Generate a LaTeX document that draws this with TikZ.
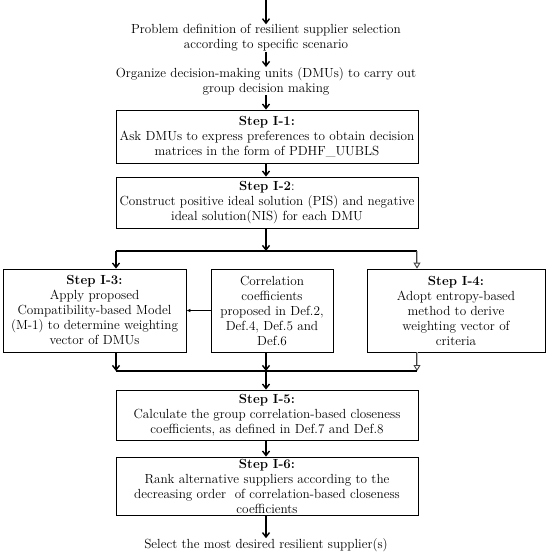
\documentclass[tikz,border=0pt]{standalone}
\usetikzlibrary{arrows.meta}
\begin{document}
\begin{tikzpicture}[x=1pt,y=-1pt,
  font=\fontsize{13.2}{15}\selectfont,
  txt/.style={align=center, inner sep=0pt},
  box/.style={draw, line width=0.8pt, align=center, inner sep=0pt},
  arr/.style={line width=1.4pt, -{Straight Barb[length=4.5pt,width=7pt]}},
  dbl/.style={draw=black!75, double=gray!55, double distance=1pt, line width=0.7pt, -{Triangle[open,length=6pt,width=7pt,line width=0.9pt]}},
  ln/.style={line width=1.4pt},
  thin arr/.style={line width=0.8pt, -{Latex[length=4pt,width=3.5pt]}}]
\useasboundingbox (0,0) rectangle (550,555);
\coordinate (top) at (266,0);
\node[txt] (t1) at (266,38) {Problem definition of resilient supplier selection\\according to specific scenario};
\node[txt] (t2) at (266,81) {Organize decision-making units (DMUs) to carry out\\group decision making};
\node[box, minimum width=302pt, minimum height=53pt] (b1) at (267,136.5) {\textbf{Step I-1:}\\Ask DMUs to express preferences to obtain decision\\matrices in the form of PDHF\_UUBLS};
\node[box, minimum width=302pt, minimum height=51pt] (b2) at (267,202.5) {\textbf{Step I-2}:\\Construct positive ideal solution (PIS) and negative\\ideal solution(NIS) for each DMU};
\node[box, minimum width=183pt, minimum height=83pt] (b3) at (94.5,310.5) {\textbf{Step I-3:}\\Apply proposed\\Compatibility-based Model\\(M-1) to determine weighting\\vector of DMUs};
\node[box, minimum width=122pt, minimum height=83pt] (b4) at (272,310.5) {Correlation\\coefficients\\proposed in Def.2,\\Def.4, Def.5 and\\Def.6};
\node[box, minimum width=178pt, minimum height=83pt] (b5) at (456,310.5) {\textbf{Step I-4:}\\Adopt entropy-based\\method to derive\\weighting vector of\\criteria};
\node[box, minimum width=302pt, minimum height=50pt] (b6) at (267,415) {\textbf{Step I-5:}\\Calculate the group correlation-based closeness\\coefficients, as defined in Def.7 and Def.8};
\node[box, minimum width=302pt, minimum height=58pt] (b7) at (267,486) {\textbf{Step I-6:}\\Rank alternative suppliers according to the\\decreasing order~ of correlation-based closeness\\coefficients};
\node[txt] (t3) at (266,545) {Select the most desired resilient supplier(s)};
\coordinate (j) at (266,251);
\coordinate (jl) at (116,251);
\coordinate (jr) at (417,251);
\coordinate (k) at (266,371);
\coordinate (kl) at (116,371);
\coordinate (kr) at (417,371);
\draw[arr] (top) -- (t1.north -| top);
\draw[arr] (t1.south -| top) -- (t2.north -| top);
\draw[arr] (t2.south -| top) -- (b1.north -| top);
\draw[arr] (b1.south -| top) -- (b2.north -| top);
\draw[arr] (b2.south -| j) -- (j);
\draw[ln] (jl) -- (jr);
\draw[arr] (jl) -- (jl |- b3.north);
\draw[dbl] (jr) -- (jr |- b5.north);
\draw[thin arr] (b4.west) -- (b3.east);
\draw[arr] (b3.south -| kl) -- (kl);
\draw[arr] (b4.south -| k) -- (k);
\draw[dbl] (b5.south -| kr) -- (kr);
\draw[ln] (kl) -- (kr);
\draw[arr] (k) -- (b6.north -| k);
\draw[arr] (b6.south -| k) -- (b7.north -| k);
\draw[arr] (b7.south -| k) -- (t3.north -| k);
\end{tikzpicture}
\end{document}
